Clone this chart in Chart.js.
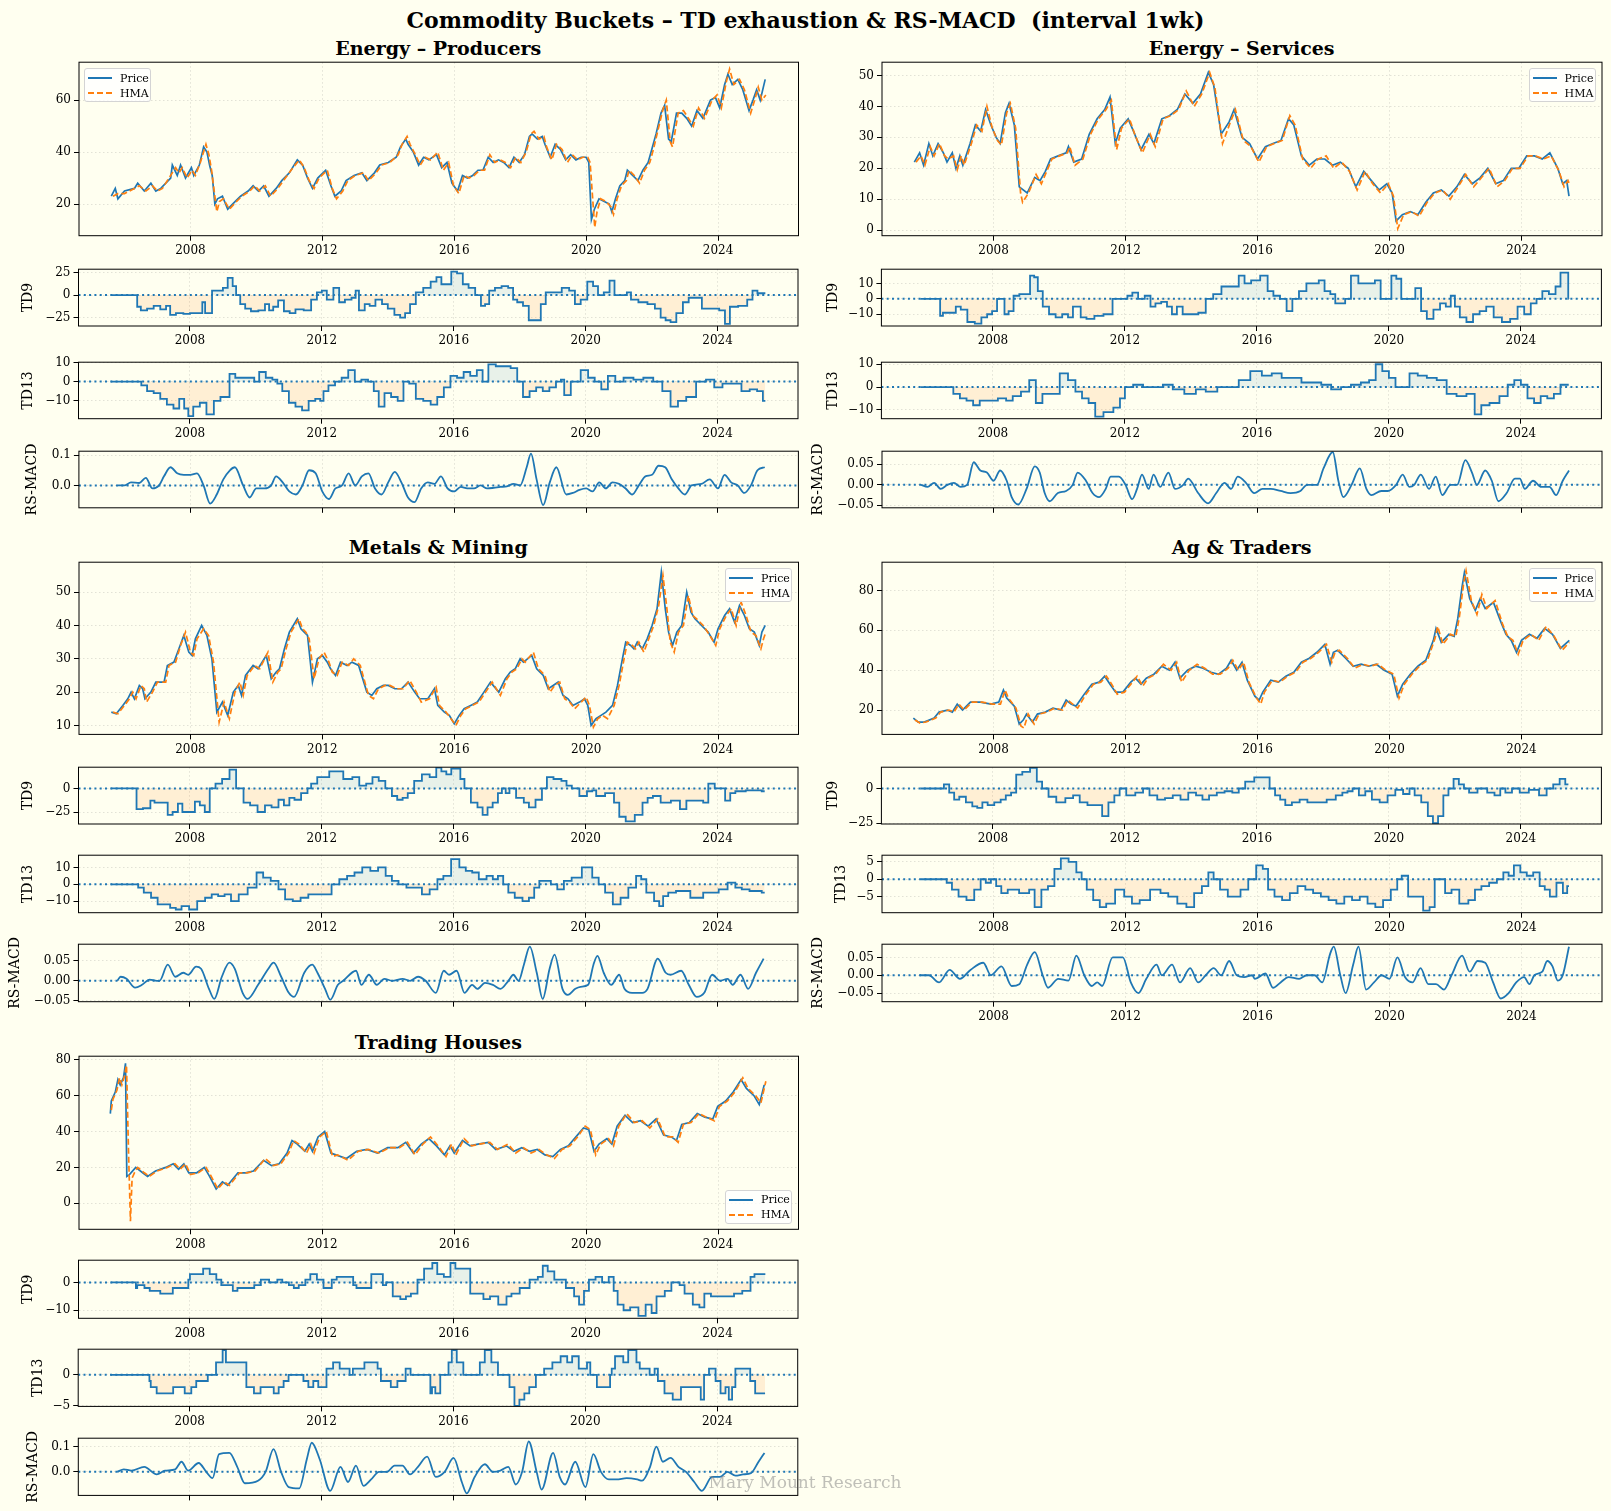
<!DOCTYPE html>
<html>
<head>
<meta charset="utf-8">
<script src="https://cdn.jsdelivr.net/npm/chart.js@4.4.1/dist/chart.umd.min.js"></script>
<style>
  body { margin: 0; background: #fffff0; }
  #page { position: relative; width: 1611px; height: 1511px; background: #fffff0; overflow: hidden;
          font-family: 'DejaVu Serif', serif; color: #000; }
  .txt { position: absolute; transform: translate(-50%, -50%); white-space: nowrap; }
  .plot { position: absolute; }
  .legend { position: absolute; width: 67px; height: 34px; box-sizing: border-box; border: 1px solid #d4d4d4;
            border-radius: 3px; background: rgba(255,255,255,0.8); font-size: 11px; z-index: 5; }
  .legend .row { position: absolute; left: 3px; height: 14px; display: flex; align-items: center; }
  .legend svg { margin-right: 8px; }
</style>
</head>
<body>
<div id="page"></div>
<script>
// ---- axes ticks ----
const yearTicks = [2008, 2012, 2016, 2020, 2024];
const xMin = 2004.62, xMax = 2026.44;

const epPriceTicks = [20, 40, 60];
const epTd9Ticks = [-25, 0, 25];
const epTd13Ticks = [-10, 0, 10];
const epRsTicks = [0, 0.1];
const esPriceTicks = [0, 10, 20, 30, 40, 50];
const esTd9Ticks = [-10, 0, 10];
const esTd13Ticks = [-10, 0, 10];
const esRsTicks = [-0.05, 0, 0.05];
const mmPriceTicks = [10, 20, 30, 40, 50];
const mmTd9Ticks = [-25, 0];
const mmTd13Ticks = [-10, 0, 10];
const mmRsTicks = [-0.05, 0, 0.05];
const agPriceTicks = [20, 40, 60, 80];
const agTd9Ticks = [-25, 0];
const agTd13Ticks = [-5, 0, 5];
const agRsTicks = [-0.05, 0, 0.05];
const thPriceTicks = [0, 20, 40, 60, 80];
const thTd9Ticks = [-10, 0];
const thTd13Ticks = [-5, 0];
const thRsTicks = [0, 0.1];

// ---- Energy – Producers ----
const epPrice = [[2005.6,23],[2005.72,26],[2005.8,22],[2006.0,25],[2006.3,26],[2006.4,28],[2006.6,25],[2006.8,28],[2006.95,25],[2007.1,26],[2007.4,30],[2007.45,35],[2007.6,31],[2007.7,35],[2007.85,30],[2008.03,34],[2008.1,31],[2008.27,35],[2008.4,42],[2008.5,40],[2008.58,35],[2008.66,31],[2008.74,20],[2008.82,22],[2008.97,23],[2009.13,18],[2009.36,21],[2009.52,23],[2009.75,25],[2009.9,27],[2010.06,25],[2010.22,27],[2010.38,23],[2010.6,26],[2010.77,29],[2011.0,32],[2011.24,37],[2011.4,35],[2011.55,30],[2011.7,26],[2011.86,30],[2012.1,33],[2012.26,27],[2012.38,23],[2012.57,25],[2012.72,29],[2012.96,31],[2013.2,32],[2013.35,29],[2013.58,32],[2013.74,35],[2014.0,36],[2014.24,38],[2014.37,42],[2014.53,45],[2014.6,43],[2014.76,40],[2014.92,35],[2015.07,38],[2015.23,37],[2015.46,39],[2015.62,34],[2015.78,36],[2015.93,28],[2016.1,25],[2016.25,31],[2016.4,30],[2016.56,31],[2016.72,33],[2016.87,33],[2017.03,38],[2017.18,36],[2017.34,37],[2017.5,36],[2017.66,34],[2017.81,38],[2017.97,36],[2018.13,39],[2018.28,46],[2018.36,47],[2018.52,45],[2018.67,46],[2018.75,43],[2018.91,38],[2019.06,43],[2019.22,41],[2019.38,37],[2019.53,39],[2019.69,37],[2019.85,38],[2020.0,38],[2020.08,36],[2020.16,14],[2020.25,18],[2020.39,22],[2020.55,21],[2020.7,20],[2020.78,17],[2020.89,22],[2021.02,27],[2021.17,29],[2021.25,33],[2021.41,31],[2021.57,29],[2021.72,33],[2021.88,36],[2021.99,41],[2022.12,47],[2022.27,55],[2022.38,58],[2022.5,45],[2022.58,44],[2022.74,55],[2022.9,55],[2023.05,53],[2023.2,50],[2023.36,56],[2023.54,53],[2023.77,60],[2023.92,61],[2024.05,57],[2024.2,66],[2024.3,70],[2024.43,66],[2024.6,68],[2024.75,64],[2024.94,56],[2025.06,60],[2025.17,64],[2025.28,60],[2025.43,68]];
const epHma = [[2005.65,23],[2005.8,24],[2006.0,24],[2006.3,26],[2006.45,27],[2006.65,25],[2006.85,27],[2007.0,25],[2007.15,26],[2007.45,32],[2007.55,34],[2007.65,32],[2007.75,34],[2007.9,30],[2008.05,33],[2008.15,31],[2008.3,36],[2008.47,43],[2008.56,39],[2008.64,33],[2008.8,17],[2008.88,21],[2009.0,22],[2009.18,18],[2009.4,21],[2009.56,23],[2009.8,25],[2009.95,27],[2010.1,25],[2010.27,27],[2010.43,23],[2010.65,26],[2010.82,29],[2011.05,33],[2011.3,37],[2011.45,34],[2011.6,29],[2011.75,26],[2011.9,30],[2012.15,33],[2012.3,26],[2012.43,22],[2012.62,25],[2012.77,29],[2013.0,31],[2013.25,32],[2013.4,29],[2013.63,32],[2013.8,35],[2014.05,36],[2014.3,39],[2014.42,43],[2014.57,46],[2014.66,43],[2014.82,39],[2014.97,35],[2015.12,38],[2015.28,37],[2015.5,40],[2015.67,33],[2015.83,36],[2015.98,27],[2016.14,24],[2016.3,31],[2016.45,30],[2016.6,31],[2016.77,33],[2016.92,33],[2017.08,39],[2017.23,36],[2017.4,37],[2017.55,36],[2017.71,34],[2017.86,38],[2018.02,36],[2018.18,40],[2018.33,47],[2018.42,48],[2018.57,45],[2018.72,46],[2018.8,42],[2018.96,37],[2019.1,43],[2019.27,41],[2019.43,36],[2019.58,39],[2019.74,37],[2019.9,38],[2020.05,38],[2020.12,36],[2020.26,11],[2020.33,17],[2020.44,22],[2020.6,21],[2020.75,19],[2020.83,16],[2020.94,22],[2021.07,27],[2021.22,29],[2021.3,33],[2021.46,31],[2021.62,28],[2021.77,33],[2021.93,36],[2022.04,41],[2022.17,48],[2022.32,56],[2022.43,60],[2022.55,44],[2022.62,42],[2022.79,55],[2022.95,56],[2023.1,53],[2023.25,50],[2023.41,57],[2023.59,53],[2023.82,60],[2023.97,62],[2024.1,57],[2024.25,67],[2024.35,72],[2024.48,66],[2024.65,68],[2024.8,64],[2024.99,55],[2025.11,60],[2025.22,65],[2025.33,60],[2025.45,62]];
const epTd9 = [[2005.6,0],[2006.38,0],[2006.42,-13],[2006.6,-17],[2006.8,-15],[2007.0,-12],[2007.2,-16],[2007.35,-12],[2007.45,-22],[2007.7,-20],[2007.9,-21],[2008.1,-20],[2008.35,-20],[2008.4,-8],[2008.52,-20],[2008.62,-20],[2008.72,5],[2008.95,5],[2009.05,8],[2009.24,19],[2009.35,10],[2009.45,0],[2009.6,-10],[2009.75,-15],[2009.95,-18],[2010.2,-17],[2010.35,-10],[2010.45,-17],[2010.6,-13],[2010.75,-6],[2010.95,-18],[2011.1,-20],[2011.3,-16],[2011.6,-17],[2011.75,-5],[2011.95,3],[2012.05,5],[2012.25,-5],[2012.45,8],[2012.6,-8],[2012.8,-5],[2013.0,-3],[2013.05,5],[2013.2,-17],[2013.4,-10],[2013.5,-12],[2013.75,-5],[2013.9,-10],[2014.1,-15],[2014.3,-22],[2014.45,-25],[2014.6,-20],[2014.75,-10],[2014.95,3],[2015.2,8],[2015.4,15],[2015.55,20],[2015.7,12],[2015.85,12],[2016.0,26],[2016.2,24],[2016.35,12],[2016.55,8],[2016.75,0],[2016.9,-12],[2017.0,-10],[2017.15,5],[2017.35,8],[2017.55,10],[2017.75,8],[2017.85,-5],[2018.0,-8],[2018.2,-12],[2018.35,-28],[2018.6,-28],[2018.68,-10],[2018.9,3],[2019.15,3],[2019.4,8],[2019.6,5],[2019.75,-10],[2019.95,-5],[2020.15,15],[2020.3,10],[2020.45,0],[2020.65,3],[2020.8,16],[2020.95,0],[2021.2,0],[2021.3,3],[2021.45,-5],[2021.75,-8],[2022.0,-10],[2022.2,-15],[2022.35,-25],[2022.5,-28],[2022.65,-30],[2022.85,-20],[2023.05,-8],[2023.2,-3],[2023.45,-3],[2023.6,-15],[2023.95,-15],[2024.15,-17],[2024.3,-32],[2024.45,-13],[2024.8,-12],[2025.0,-5],[2025.12,5],[2025.3,2],[2025.45,2]];
const epTd13 = [[2005.6,0],[2006.45,0],[2006.6,-2],[2006.8,-5],[2007.0,-6],[2007.2,-9],[2007.4,-12],[2007.6,-14],[2007.75,-9],[2007.9,-14],[2008.0,-18],[2008.2,-13],[2008.4,-11],[2008.6,-17],[2008.85,-10],[2009.0,-8],[2009.15,-8],[2009.25,4],[2009.5,2],[2009.9,2],[2010.0,0],[2010.2,5],[2010.4,2],[2010.6,1],[2010.7,-1],[2010.9,-5],[2011.1,-11],[2011.3,-13],[2011.5,-15],[2011.7,-10],[2011.9,-9],[2012.0,-10],[2012.1,-5],[2012.3,-2],[2012.5,0],[2012.7,2],[2012.9,6],[2013.1,0],[2013.3,1],[2013.5,0],[2013.65,-5],[2013.8,-13],[2014.0,-6],[2014.2,-8],[2014.4,-10],[2014.55,0],[2014.75,-1],[2014.95,-9],[2015.2,-10],[2015.4,-12],[2015.6,-8],[2015.8,-3],[2016.0,3],[2016.2,2],[2016.4,5],[2016.6,3],[2016.8,6],[2016.95,0],[2017.15,9],[2017.4,8],[2017.6,8],[2017.85,7],[2018.0,0],[2018.2,-8],[2018.4,-5],[2018.6,-3],[2018.8,-5],[2019.0,-3],[2019.2,0],[2019.3,1],[2019.4,-7],[2019.7,0],[2020.0,6],[2020.15,2],[2020.4,0],[2020.55,-4],[2020.8,3],[2021.0,0],[2021.3,2],[2021.6,1],[2021.9,2],[2022.2,0],[2022.45,-5],[2022.7,-13],[2022.9,-10],[2023.2,-8],[2023.5,0],[2023.8,1],[2024.0,-3],[2024.3,-1],[2024.6,-1],[2024.85,-5],[2025.1,-4],[2025.3,-5],[2025.45,-10]];
const epRs = [[2005.8,0],[2006.0,0],[2006.2,0.01],[2006.45,0.008],[2006.65,0.025],[2006.85,-0.01],[2007.05,0.0],[2007.2,0.03],[2007.4,0.06],[2007.6,0.04],[2007.8,0.035],[2008.0,0.035],[2008.2,0.04],[2008.4,0.0],[2008.6,-0.06],[2008.8,-0.03],[2009.0,0.02],[2009.2,0.05],[2009.35,0.06],[2009.6,0.0],[2009.8,-0.04],[2010.0,-0.01],[2010.25,-0.01],[2010.45,0.0],[2010.6,0.03],[2010.8,0.01],[2011.0,-0.02],[2011.2,-0.03],[2011.4,0.0],[2011.6,0.05],[2011.8,0.04],[2012.0,-0.02],[2012.2,-0.045],[2012.4,-0.01],[2012.6,0.0],[2012.8,0.04],[2013.0,0.0],[2013.2,0.03],[2013.4,0.04],[2013.6,-0.01],[2013.8,-0.03],[2014.0,0.01],[2014.2,0.045],[2014.4,0.01],[2014.6,-0.04],[2014.8,-0.055],[2015.0,-0.01],[2015.2,0.01],[2015.4,0.005],[2015.6,0.03],[2015.8,-0.01],[2016.0,-0.02],[2016.2,-0.005],[2016.4,-0.01],[2016.6,-0.01],[2016.8,0.0],[2017.0,-0.01],[2017.2,-0.008],[2017.4,-0.005],[2017.6,-0.003],[2017.8,0.005],[2018.0,0.0],[2018.2,0.06],[2018.33,0.105],[2018.5,0.02],[2018.7,-0.065],[2018.9,0.01],[2019.1,0.06],[2019.4,-0.03],[2019.6,-0.025],[2019.8,-0.015],[2020.0,-0.01],[2020.2,-0.02],[2020.4,0.01],[2020.6,-0.01],[2020.8,0.01],[2021.0,0.005],[2021.2,-0.01],[2021.4,-0.03],[2021.6,0.0],[2021.8,0.03],[2022.0,0.035],[2022.2,0.065],[2022.4,0.06],[2022.6,0.02],[2022.8,-0.01],[2023.0,-0.03],[2023.2,0.0],[2023.5,0.005],[2023.75,0.02],[2024.0,-0.01],[2024.2,0.035],[2024.4,0.01],[2024.6,0.0],[2024.8,-0.025],[2025.0,0.0],[2025.2,0.05],[2025.42,0.06]];

// ---- Energy – Services ----
const esPrice = [[2005.6,22],[2005.76,25],[2005.88,21],[2006.04,28],[2006.16,24],[2006.32,28],[2006.48,25],[2006.59,22],[2006.75,25],[2006.86,20],[2006.98,24],[2007.07,21],[2007.29,28],[2007.45,34],[2007.61,32],[2007.76,39],[2007.92,34],[2008.08,30],[2008.2,28],[2008.36,38],[2008.47,41],[2008.63,34],[2008.78,14],[2009.02,12],[2009.25,17],[2009.41,16],[2009.57,19],[2009.73,23],[2009.96,24],[2010.2,25],[2010.27,27],[2010.43,22],[2010.67,23],[2010.9,31],[2011.14,36],[2011.37,39],[2011.53,43],[2011.69,28],[2011.84,33],[2012.08,36],[2012.24,32],[2012.47,26],[2012.71,31],[2012.86,28],[2013.1,36],[2013.33,37],[2013.57,39],[2013.8,44],[2014.04,41],[2014.27,44],[2014.51,51],[2014.67,47],[2014.9,31],[2015.14,35],[2015.29,39],[2015.53,30],[2015.76,28],[2016.0,23],[2016.24,27],[2016.47,28],[2016.71,29],[2016.94,36],[2017.1,34],[2017.33,24],[2017.57,21],[2017.8,23],[2018.04,23],[2018.27,21],[2018.51,22],[2018.75,20],[2018.98,14],[2019.22,19],[2019.45,16],[2019.69,13],[2019.92,15],[2020.08,12],[2020.2,3],[2020.39,5],[2020.63,6],[2020.86,5],[2021.1,9],[2021.33,12],[2021.57,13],[2021.8,11],[2022.04,14],[2022.27,18],[2022.51,15],[2022.75,17],[2022.98,20],[2023.22,15],[2023.45,16],[2023.69,20],[2023.92,20],[2024.16,24],[2024.39,24],[2024.63,23],[2024.86,25],[2025.1,20],[2025.25,15],[2025.37,16],[2025.44,11]];
const esHma = [[2005.65,22],[2005.8,24],[2005.92,21],[2006.08,27],[2006.2,24],[2006.36,28],[2006.52,24],[2006.63,23],[2006.79,24],[2006.9,19.5],[2007.02,24],[2007.11,21],[2007.33,28],[2007.49,34],[2007.65,32],[2007.8,40],[2007.96,33],[2008.12,29],[2008.24,27.5],[2008.4,38],[2008.51,41],[2008.67,33],[2008.82,12],[2008.88,9],[2009.06,12],[2009.29,18],[2009.45,15],[2009.61,19],[2009.77,23],[2010.0,24],[2010.24,25],[2010.31,27],[2010.47,21],[2010.71,23],[2010.94,31],[2011.18,36],[2011.41,39],[2011.57,42],[2011.73,26],[2011.88,33],[2012.12,36],[2012.28,31],[2012.51,25],[2012.75,31],[2012.9,27],[2013.14,36],[2013.37,37],[2013.61,39],[2013.84,45],[2014.08,40],[2014.31,44],[2014.55,51],[2014.71,46],[2014.94,28],[2015.18,35],[2015.33,39],[2015.57,29],[2015.8,27],[2016.04,22],[2016.28,27],[2016.51,28],[2016.75,29],[2016.98,37],[2017.14,34],[2017.37,23],[2017.61,20],[2017.84,23],[2018.08,24],[2018.31,20],[2018.55,22],[2018.79,19],[2019.02,13],[2019.26,19],[2019.49,15],[2019.73,12],[2019.96,15],[2020.12,11],[2020.25,0.5],[2020.43,5],[2020.67,6],[2020.9,4.5],[2021.14,9],[2021.37,12],[2021.61,13],[2021.84,10],[2022.08,14],[2022.31,18],[2022.55,14],[2022.79,17],[2023.02,20],[2023.26,14],[2023.49,16],[2023.73,20],[2023.96,20],[2024.2,24],[2024.43,24],[2024.67,23],[2024.9,24],[2025.14,19],[2025.29,14],[2025.41,16],[2025.45,15]];
const esTd9 = [[2005.8,0],[2006.38,0],[2006.42,-11],[2006.55,-9],[2006.8,-9],[2006.95,-5],[2007.1,-7],[2007.35,-15],[2007.55,-16],[2007.75,-12],[2007.9,-10],[2008.05,-8],[2008.2,0],[2008.3,0],[2008.4,-10],[2008.55,-8],[2008.7,2],[2008.9,3],[2009.05,3],[2009.2,15],[2009.3,14],[2009.42,5],[2009.6,-5],[2009.8,-10],[2010.0,-12],[2010.2,-10],[2010.35,-12],[2010.5,-5],[2010.6,-5],[2010.72,-12],[2010.95,-13],[2011.2,-11],[2011.5,-10],[2011.75,0],[2012.0,0],[2012.15,2],[2012.3,4],[2012.5,0],[2012.7,2],[2012.85,-5],[2013.0,-3],[2013.2,-2],[2013.35,-5],[2013.5,-10],[2013.65,-5],[2013.85,-10],[2014.1,-10],[2014.35,-9],[2014.55,0],[2014.8,3],[2015.05,8],[2015.35,8],[2015.55,15],[2015.7,10],[2015.95,12],[2016.25,15],[2016.4,5],[2016.6,2],[2016.8,0],[2017.0,-8],[2017.15,0],[2017.4,5],[2017.6,10],[2017.8,10],[2017.95,12],[2018.15,5],[2018.3,3],[2018.45,-3],[2018.6,-3],[2018.75,0],[2018.95,15],[2019.2,10],[2019.5,10],[2019.65,12],[2019.85,0],[2020.0,0],[2020.15,15],[2020.3,13],[2020.45,0],[2020.7,0],[2020.9,7],[2021.05,-8],[2021.25,-13],[2021.45,-7],[2021.65,-3],[2021.8,-5],[2021.95,2],[2022.05,-5],[2022.25,-12],[2022.45,-15],[2022.65,-10],[2022.85,-8],[2023.05,-5],[2023.3,-12],[2023.55,-15],[2023.8,-13],[2024.0,-5],[2024.2,-10],[2024.4,-3],[2024.55,0],[2024.75,5],[2024.95,3],[2025.15,8],[2025.25,17],[2025.42,17],[2025.45,0]];
const esTd13 = [[2005.8,0],[2006.7,0],[2006.9,-3],[2007.1,-5],[2007.3,-6],[2007.5,-8],[2007.7,-6],[2008.0,-6],[2008.3,-5],[2008.5,-6],[2008.7,-4],[2009.0,-2],[2009.2,3],[2009.4,-7],[2009.6,-3],[2009.9,-3],[2010.15,6],[2010.4,3],[2010.6,-2],[2010.8,-5],[2011.0,-7],[2011.2,-13],[2011.5,-11],[2011.8,-9],[2011.9,-5],[2012.1,0],[2012.4,1],[2012.7,0],[2013.0,0],[2013.3,1],[2013.6,-1],[2014.0,-3],[2014.3,-1],[2014.6,-2],[2015.0,0],[2015.3,0],[2015.6,3],[2016.0,7],[2016.3,5],[2016.6,6],[2016.9,4],[2017.2,4],[2017.5,2],[2017.8,2],[2018.1,1],[2018.4,-1],[2018.7,0],[2019.0,1],[2019.3,2],[2019.5,3],[2019.7,10],[2019.9,7],[2020.1,4],[2020.3,0],[2020.5,0],[2020.75,6],[2021.0,5],[2021.3,4],[2021.6,3],[2021.9,-3],[2022.2,-4],[2022.5,-3],[2022.7,-12],[2022.9,-8],[2023.2,-7],[2023.5,-4],[2023.7,1],[2023.9,3],[2024.1,1],[2024.3,-5],[2024.5,-7],[2024.7,-4],[2024.9,-5],[2025.1,-3],[2025.3,1],[2025.45,1]];
const esRs = [[2005.8,0],[2006.0,-0.005],[2006.2,0.005],[2006.4,-0.01],[2006.6,0.0],[2006.8,0.005],[2007.0,-0.005],[2007.2,0.0],[2007.4,0.055],[2007.6,0.035],[2007.8,0.03],[2008.0,0.01],[2008.2,0.035],[2008.4,0.01],[2008.55,-0.03],[2008.75,-0.048],[2009.0,-0.01],[2009.25,0.045],[2009.4,0.03],[2009.55,-0.02],[2009.7,-0.04],[2009.95,-0.02],[2010.2,-0.015],[2010.4,0.0],[2010.55,0.03],[2010.8,0.01],[2011.0,-0.02],[2011.2,-0.03],[2011.4,-0.01],[2011.55,0.02],[2011.8,0.02],[2012.0,0.0],[2012.2,-0.035],[2012.35,-0.01],[2012.5,0.025],[2012.7,-0.01],[2012.85,0.025],[2013.05,-0.005],[2013.3,0.03],[2013.5,-0.01],[2013.75,0.0],[2013.9,0.015],[2014.2,-0.02],[2014.5,-0.045],[2014.75,-0.02],[2015.0,0.005],[2015.2,-0.01],[2015.4,0.02],[2015.65,0.005],[2015.9,-0.02],[2016.15,-0.01],[2016.4,-0.01],[2016.7,-0.015],[2017.0,-0.02],[2017.3,-0.015],[2017.5,0.0],[2017.8,0.0],[2018.0,0.04],[2018.28,0.08],[2018.45,0.01],[2018.6,-0.03],[2018.85,0.0],[2019.1,0.04],[2019.3,-0.01],[2019.45,-0.025],[2019.75,-0.015],[2019.95,-0.015],[2020.2,0.0],[2020.4,0.025],[2020.6,-0.005],[2020.75,0.0],[2020.95,0.025],[2021.2,-0.01],[2021.4,0.02],[2021.6,-0.025],[2021.85,0.0],[2022.05,0.0],[2022.3,0.06],[2022.5,0.03],[2022.65,0.0],[2022.9,0.035],[2023.1,0.01],[2023.3,-0.04],[2023.55,-0.02],[2023.8,0.015],[2023.95,0.015],[2024.1,-0.01],[2024.35,0.01],[2024.6,-0.005],[2024.85,-0.005],[2025.05,-0.025],[2025.25,0.01],[2025.44,0.035]];

// ---- Metals & Mining ----
const mmPrice = [[2005.6,14],[2005.75,13.5],[2005.95,16],[2006.1,18],[2006.2,20],[2006.3,18],[2006.45,22],[2006.55,21],[2006.62,18],[2006.8,20],[2006.95,23],[2007.2,23],[2007.3,28],[2007.5,29],[2007.65,33],[2007.8,37],[2007.95,32],[2008.05,31],[2008.15,36],[2008.34,40],[2008.5,37],[2008.65,30],[2008.8,14],[2008.97,17],[2009.13,13],[2009.3,20],[2009.45,22],[2009.55,19],[2009.67,25],[2009.9,28],[2010.05,27],[2010.3,31],[2010.45,24],[2010.6,26],[2010.7,27],[2010.85,33],[2011.0,38],[2011.24,42],[2011.35,39],[2011.45,38],[2011.55,37],[2011.7,23],[2011.85,30],[2012.0,31],[2012.15,29],[2012.25,27],[2012.4,25],[2012.55,29],[2012.75,28],[2012.9,29],[2013.1,28],[2013.35,20],[2013.5,19],[2013.65,21],[2013.85,22],[2014.0,22],[2014.2,21],[2014.4,21],[2014.6,23],[2014.8,20],[2014.95,18],[2015.2,18],[2015.4,21],[2015.5,16],[2015.7,14],[2015.85,13],[2016.0,10.5],[2016.15,13],[2016.3,15],[2016.5,16],[2016.7,17],[2016.9,20],[2017.1,23],[2017.35,20],[2017.55,24],[2017.7,26],[2017.85,27],[2018.0,30],[2018.1,29],[2018.35,31],[2018.5,27],[2018.7,25],[2018.85,21],[2019.0,22],[2019.15,23],[2019.3,19],[2019.45,18],[2019.6,16],[2019.8,17],[2019.95,18],[2020.05,16],[2020.15,10],[2020.3,12],[2020.45,13],[2020.6,14],[2020.8,16],[2020.95,22],[2021.1,30],[2021.2,35],[2021.35,34],[2021.45,33],[2021.55,35],[2021.7,33],[2021.85,36],[2022.0,40],[2022.15,45],[2022.28,56],[2022.4,45],[2022.5,38],[2022.62,34],[2022.75,38],[2022.9,40],[2023.05,50],[2023.18,44],[2023.3,42],[2023.5,40],[2023.7,38],[2023.88,35],[2024.0,39],[2024.2,43],[2024.35,45],[2024.5,41],[2024.65,46],[2024.8,43],[2024.95,39],[2025.1,38],[2025.25,34],[2025.33,38],[2025.43,40]];
const mmHma = [[2005.65,14],[2005.8,13.5],[2006.0,16],[2006.15,18],[2006.25,20],[2006.35,18],[2006.5,22],[2006.6,21],[2006.67,17],[2006.85,20],[2007.0,23],[2007.25,23],[2007.35,28],[2007.55,29],[2007.7,34],[2007.85,38],[2008.0,32],[2008.1,31],[2008.2,36],[2008.4,39],[2008.55,37],[2008.7,29],[2008.87,11],[2009.02,17],[2009.18,12],[2009.35,20],[2009.5,23],[2009.6,19],[2009.72,25],[2009.95,28],[2010.1,27],[2010.35,32],[2010.5,23],[2010.65,26],[2010.75,27],[2010.9,33],[2011.05,38],[2011.29,42],[2011.4,39],[2011.5,38],[2011.6,36],[2011.75,24],[2011.9,30],[2012.05,32],[2012.2,29],[2012.3,26],[2012.45,25],[2012.6,29],[2012.8,28],[2012.95,30],[2013.15,28],[2013.4,19],[2013.55,18],[2013.7,21],[2013.9,22],[2014.05,22],[2014.25,21],[2014.45,21],[2014.65,23.5],[2014.85,20],[2015.0,17],[2015.25,18],[2015.45,21.5],[2015.55,16],[2015.75,14],[2015.9,12],[2016.05,10],[2016.2,13],[2016.35,15],[2016.55,16],[2016.75,17],[2016.95,20],[2017.15,23],[2017.4,19],[2017.6,24],[2017.75,26],[2017.9,27],[2018.05,30],[2018.15,29],[2018.4,32],[2018.55,27],[2018.75,25],[2018.9,20],[2019.05,22],[2019.2,23],[2019.35,18],[2019.5,17],[2019.65,15],[2019.85,17],[2020.0,18.5],[2020.1,16],[2020.22,9.5],[2020.35,12],[2020.5,13],[2020.65,12],[2020.85,16],[2021.0,22],[2021.15,30],[2021.25,35],[2021.4,34],[2021.5,33],[2021.6,35],[2021.75,32],[2021.9,36],[2022.05,40],[2022.2,46],[2022.33,55],[2022.45,45],[2022.55,35],[2022.67,32],[2022.8,38],[2022.95,40],[2023.1,49],[2023.23,43],[2023.35,42],[2023.55,40],[2023.75,37],[2023.93,34],[2024.05,39],[2024.25,43],[2024.4,45],[2024.55,40],[2024.7,47],[2024.85,43],[2025.0,38],[2025.15,37],[2025.3,33],[2025.38,36],[2025.45,38]];
const mmTd9 = [[2005.6,0],[2006.36,0],[2006.4,-22],[2006.75,-21],[2006.85,-13],[2007.0,-15],[2007.25,-15],[2007.4,-28],[2007.55,-25],[2007.72,-16],[2007.82,-25],[2008.1,-25],[2008.2,-14],[2008.4,-18],[2008.5,-25],[2008.7,0],[2008.85,5],[2009.1,10],[2009.3,20],[2009.5,0],[2009.75,-15],[2009.9,-18],[2010.2,-25],[2010.35,-18],[2010.6,-20],[2010.77,-12],[2010.93,-18],[2011.1,-10],[2011.24,-12],[2011.5,-5],[2011.63,0],[2011.72,5],[2012.0,12],[2012.45,18],[2012.85,10],[2013.0,12],[2013.27,3],[2013.42,5],[2013.65,12],[2013.8,8],[2014.05,0],[2014.2,-8],[2014.37,-12],[2014.53,-10],[2014.68,-5],[2014.92,8],[2015.15,15],[2015.39,12],[2015.55,22],[2015.7,18],[2015.85,15],[2016.0,21],[2016.15,21],[2016.25,10],[2016.4,0],[2016.64,-15],[2016.8,-20],[2016.95,-28],[2017.1,-20],[2017.26,-15],[2017.42,-5],[2017.5,0],[2017.65,-5],[2017.73,0],[2018.05,-10],[2018.2,-15],[2018.36,-20],[2018.6,-12],[2018.75,0],[2018.9,12],[2019.15,10],[2019.38,8],[2019.46,3],[2019.7,0],[2019.92,-8],[2020.16,-3],[2020.24,-2],[2020.4,-8],[2020.78,-5],[2020.94,-15],[2021.1,-30],[2021.33,-35],[2021.65,-28],[2021.8,-15],[2021.96,-10],[2022.12,-8],[2022.43,-15],[2022.74,-13],[2022.98,-22],[2023.13,-13],[2023.53,-13],[2023.6,-15],[2023.84,5],[2023.99,0],[2024.15,0],[2024.31,-13],[2024.46,-5],[2024.62,-3],[2025.09,-2],[2025.25,-2],[2025.43,-3]];
const mmTd13 = [[2005.6,0],[2006.36,0],[2006.5,-2],[2006.7,-5],[2006.94,-8],[2007.1,-12],[2007.3,-12],[2007.5,-14],[2007.64,-15],[2007.85,-13],[2008.1,-15],[2008.34,-10],[2008.58,-8],[2008.74,-6],[2008.97,-7],[2009.13,-6],[2009.36,-10],[2009.6,-6],[2009.9,-2],[2010.14,7],[2010.3,4],[2010.6,2],[2010.77,-3],[2011.0,-9],[2011.24,-10],[2011.47,-8],[2011.71,-6],[2011.95,-6],[2012.18,-6],[2012.41,0],[2012.65,3],[2012.88,5],[2013.1,7],[2013.35,10],[2013.59,8],[2013.82,10],[2014.05,5],[2014.2,2],[2014.45,0],[2014.68,-2],[2014.92,-2],[2015.15,-6],[2015.39,-3],[2015.62,3],[2015.75,5],[2016.09,15],[2016.25,10],[2016.48,8],[2016.64,7],[2016.88,3],[2017.11,5],[2017.26,3],[2017.42,5],[2017.58,0],[2017.73,-5],[2017.97,-8],[2018.2,-10],[2018.36,-8],[2018.52,-2],[2018.67,2],[2018.83,2],[2019.06,0],[2019.22,-3],[2019.46,2],[2019.69,4],[2020.08,10],[2020.32,4],[2020.47,0],[2020.71,-5],[2020.94,-12],[2021.18,-8],[2021.41,-2],[2021.65,5],[2021.72,3],[2021.96,-5],[2022.19,-10],[2022.27,-13],[2022.43,-7],[2022.58,-5],[2022.9,-4],[2023.45,-8],[2023.68,-5],[2023.92,-5],[2024.15,-3],[2024.46,1],[2024.62,-2],[2024.85,-3],[2025.09,-4],[2025.25,-4],[2025.43,-5]];
const mmRs = [[2005.8,0],[2005.9,0.01],[2006.08,0.005],[2006.34,-0.017],[2006.55,-0.01],[2006.78,0.003],[2007.0,0.0],[2007.08,0.0],[2007.33,0.04],[2007.56,0.01],[2007.8,0.02],[2007.95,0.015],[2008.19,0.035],[2008.34,0.03],[2008.58,-0.02],[2008.74,-0.045],[2008.97,0.01],[2009.2,0.045],[2009.36,0.03],[2009.6,-0.03],[2009.75,-0.045],[2010.07,-0.01],[2010.38,0.03],[2010.54,0.045],[2010.77,0.01],[2011.0,-0.03],[2011.16,-0.04],[2011.47,0.02],[2011.71,0.04],[2011.87,0.02],[2012.1,-0.02],[2012.26,-0.047],[2012.49,-0.01],[2012.65,0.0],[2013.04,0.025],[2013.2,-0.01],[2013.43,0.015],[2013.67,-0.01],[2013.9,0.005],[2014.13,0.0],[2014.45,0.005],[2014.68,0.0],[2014.92,0.01],[2015.15,0.0],[2015.46,-0.03],[2015.7,0.025],[2015.86,0.015],[2016.09,0.025],[2016.33,-0.03],[2016.56,-0.01],[2016.72,-0.02],[2016.95,-0.005],[2017.19,-0.01],[2017.42,-0.02],[2017.66,0.0],[2017.81,0.015],[2017.97,0.0],[2018.13,0.04],[2018.31,0.085],[2018.52,0.02],[2018.7,-0.045],[2018.91,0.03],[2019.06,0.065],[2019.3,-0.02],[2019.46,-0.035],[2019.69,-0.02],[2019.85,-0.015],[2020.08,-0.01],[2020.24,0.04],[2020.36,0.062],[2020.55,0.02],[2020.78,-0.01],[2021.02,0.015],[2021.18,-0.02],[2021.41,-0.03],[2021.72,-0.03],[2021.88,-0.02],[2022.19,0.055],[2022.43,0.02],[2022.58,0.015],[2022.9,0.025],[2023.13,-0.01],[2023.37,-0.04],[2023.6,-0.03],[2023.84,0.015],[2024.08,0.0],[2024.31,0.005],[2024.46,-0.01],[2024.7,0.015],[2024.93,-0.02],[2025.17,0.02],[2025.4,0.055]];

// ---- Ag & Traders ----
const agPrice = [[2005.57,16],[2005.72,14],[2005.9,14],[2006.2,16],[2006.35,19],[2006.6,20],[2006.75,19],[2006.9,23],[2007.06,20],[2007.3,24],[2007.6,24],[2007.92,23],[2008.16,24],[2008.3,30],[2008.4,26],[2008.63,22],[2008.78,13],[2008.9,15],[2009.0,18],[2009.18,14],[2009.33,18],[2009.57,19],[2009.8,21],[2010.04,20],[2010.2,25],[2010.35,23],[2010.5,22],[2010.75,28],[2010.98,33],[2011.2,34],[2011.37,37],[2011.53,33],[2011.7,29],[2011.92,29],[2012.16,34],[2012.3,36],[2012.47,33],[2012.63,36],[2012.86,38],[2013.1,42],[2013.33,40],[2013.5,44],[2013.65,36],[2013.88,40],[2014.12,42],[2014.35,41],[2014.59,39],[2014.82,38],[2015.06,41],[2015.2,45],[2015.37,40],[2015.53,44],[2015.69,35],[2015.92,27],[2016.05,25],[2016.16,29],[2016.4,35],[2016.63,34],[2016.86,37],[2017.1,39],[2017.33,44],[2017.57,46],[2017.8,49],[2018.04,53],[2018.2,43],[2018.3,49],[2018.43,50],[2018.67,46],[2018.9,42],[2019.14,43],[2019.37,42],[2019.6,43],[2019.84,40],[2020.08,38],[2020.24,27],[2020.4,33],[2020.63,38],[2020.86,42],[2021.1,45],[2021.33,55],[2021.41,61],[2021.57,54],[2021.8,58],[2021.96,57],[2022.07,66],[2022.2,82],[2022.27,89],[2022.43,76],[2022.6,70],[2022.75,76],[2022.9,71],[2023.15,74],[2023.38,64],[2023.53,58],[2023.69,55],[2023.85,49],[2024.0,55],[2024.24,58],[2024.47,56],[2024.7,61],[2024.94,58],[2025.18,51],[2025.45,55]];
const agHma = [[2005.62,15],[2005.77,13.5],[2005.95,14],[2006.25,16],[2006.4,19],[2006.65,20],[2006.8,19],[2006.95,23],[2007.11,20],[2007.35,24],[2007.65,24],[2007.97,23],[2008.21,23],[2008.35,30],[2008.45,26],[2008.68,21],[2008.83,12],[2008.92,11],[2009.05,18],[2009.23,13],[2009.38,18],[2009.62,19],[2009.85,21],[2010.09,20],[2010.25,25],[2010.4,23],[2010.55,21],[2010.8,28],[2011.03,33],[2011.25,34],[2011.42,37],[2011.58,33],[2011.75,28],[2011.97,29],[2012.21,34],[2012.35,37],[2012.52,32],[2012.68,36],[2012.91,38],[2013.15,43],[2013.38,40],[2013.55,44],[2013.7,34],[2013.93,40],[2014.17,43],[2014.4,41],[2014.64,38],[2014.87,38],[2015.11,41],[2015.25,45],[2015.42,40],[2015.58,44],[2015.74,34],[2015.97,26],[2016.1,23],[2016.21,29],[2016.45,35],[2016.68,34],[2016.91,37],[2017.15,39],[2017.38,44],[2017.62,46],[2017.85,49],[2018.09,53],[2018.25,44],[2018.35,49],[2018.48,50],[2018.72,46],[2018.95,41],[2019.19,43],[2019.42,42],[2019.65,43],[2019.89,40],[2020.13,38],[2020.29,26],[2020.45,33],[2020.68,38],[2020.91,42],[2021.15,45],[2021.38,56],[2021.46,62],[2021.62,53],[2021.85,58],[2022.01,57],[2022.12,67],[2022.25,84],[2022.32,90],[2022.48,75],[2022.65,68],[2022.8,78],[2022.95,71],[2023.2,75],[2023.43,63],[2023.58,57],[2023.74,55],[2023.9,48],[2024.05,55],[2024.29,58],[2024.52,55],[2024.75,62],[2024.99,57],[2025.23,50],[2025.45,54]];
const agTd9 = [[2005.8,0],[2006.43,0],[2006.6,3],[2006.75,-3],[2006.9,-8],[2007.06,-6],[2007.3,-10],[2007.45,-13],[2007.6,-14],[2007.76,-10],[2007.92,-12],[2008.16,-10],[2008.31,-8],[2008.47,-5],[2008.63,-3],[2008.78,10],[2009.0,12],[2009.25,15],[2009.41,5],[2009.57,0],[2009.8,-6],[2010.04,-10],[2010.35,-7],[2010.51,-5],[2010.75,-10],[2010.98,-12],[2011.22,-12],[2011.4,-20],[2011.6,-10],[2011.76,-5],[2011.92,0],[2012.16,-5],[2012.47,-3],[2012.63,0],[2012.86,-5],[2013.1,-8],[2013.33,-7],[2013.57,-5],[2013.8,-8],[2014.04,-3],[2014.27,-5],[2014.43,-8],[2014.67,-5],[2014.9,-3],[2015.14,-2],[2015.37,-3],[2015.53,0],[2015.76,5],[2016.08,8],[2016.3,8],[2016.47,0],[2016.63,-5],[2016.78,-8],[2016.94,-12],[2017.18,-10],[2017.41,-8],[2017.65,-10],[2017.96,-10],[2018.27,-8],[2018.51,-5],[2018.67,-3],[2018.82,-2],[2018.98,0],[2019.2,-5],[2019.37,-2],[2019.6,-8],[2019.84,-10],[2020.08,-5],[2020.31,-1],[2020.55,-4],[2020.7,0],[2020.86,-5],[2021.1,-10],[2021.26,-20],[2021.41,-25],[2021.57,-20],[2021.73,-5],[2021.88,0],[2022.04,7],[2022.2,3],[2022.35,0],[2022.51,-3],[2022.86,0],[2023.1,-3],[2023.3,-5],[2023.45,0],[2023.61,-3],[2023.85,0],[2024.08,-3],[2024.4,-1],[2024.7,-5],[2024.86,0],[2025.1,3],[2025.25,7],[2025.44,3]];
const agTd13 = [[2005.8,0],[2006.5,0],[2006.66,-1],[2006.82,-3],[2007.06,-5],[2007.3,-6],[2007.53,-3],[2007.69,0],[2007.84,-1],[2008.0,0],[2008.16,-2],[2008.31,-4],[2008.55,-3],[2009.0,-4],[2009.16,-3],[2009.33,-8],[2009.57,-3],[2009.73,-2],[2009.96,3],[2010.12,6],[2010.43,5],[2010.59,2],[2010.75,0],[2010.9,-3],[2011.14,-6],[2011.3,-8],[2011.53,-7],[2011.84,-3],[2012.08,-5],[2012.31,-7],[2012.55,-6],[2012.94,-3],[2013.18,-4],[2013.41,-5],[2013.73,-7],[2013.96,-8],[2014.2,-4],[2014.43,-2],[2014.59,2],[2014.75,0],[2014.98,-3],[2015.22,-5],[2015.37,-5],[2015.6,-3],[2015.84,0],[2016.08,4],[2016.24,3],[2016.4,-3],[2016.63,-5],[2016.86,-6],[2017.1,-4],[2017.33,-2],[2017.57,-3],[2017.8,-4],[2018.04,-5],[2018.27,-6],[2018.51,-7],[2018.75,-5],[2018.98,-6],[2019.22,-5],[2019.45,-7],[2019.69,-8],[2019.92,-6],[2020.16,-3],[2020.31,0],[2020.43,1],[2020.7,-5],[2020.94,-5],[2021.1,-9],[2021.33,-8],[2021.41,0],[2021.57,0],[2021.8,-4],[2021.96,-3],[2022.27,-7],[2022.51,-6],[2022.67,-3],[2022.9,-2],[2023.14,-1],[2023.37,0],[2023.53,2],[2023.69,1],[2023.85,4],[2024.08,2],[2024.24,1],[2024.47,2],[2024.63,-2],[2024.78,-3],[2024.94,-5],[2025.18,-1],[2025.33,-4],[2025.44,-2]];
const agRs = [[2005.76,0],[2006.04,0.0],[2006.35,-0.02],[2006.67,0.015],[2006.98,-0.01],[2007.3,0.015],[2007.69,0.035],[2007.92,0.0],[2008.24,0.025],[2008.55,-0.03],[2008.78,-0.025],[2009.02,0.03],[2009.25,0.065],[2009.49,0.0],[2009.65,-0.035],[2009.96,-0.01],[2010.27,-0.015],[2010.51,0.055],[2010.75,0.0],[2010.98,-0.03],[2011.14,-0.02],[2011.29,-0.03],[2011.61,0.05],[2011.92,0.05],[2012.16,-0.02],[2012.39,-0.05],[2012.63,-0.01],[2012.94,0.03],[2013.1,0.0],[2013.41,0.03],[2013.65,-0.02],[2013.96,0.02],[2014.2,-0.02],[2014.43,0.0],[2014.67,0.02],[2014.9,0.0],[2015.14,0.04],[2015.37,0.0],[2015.6,-0.005],[2015.84,0.0],[2015.92,-0.01],[2016.24,0.005],[2016.47,-0.035],[2016.7,-0.02],[2016.94,-0.005],[2017.26,-0.01],[2017.49,0.0],[2017.73,0.0],[2017.96,-0.02],[2018.2,0.06],[2018.31,0.08],[2018.51,0.0],[2018.67,-0.05],[2018.9,0.03],[2019.06,0.08],[2019.29,-0.04],[2019.53,-0.02],[2019.76,0.0],[2020.0,-0.01],[2020.24,0.05],[2020.47,-0.005],[2020.7,-0.02],[2020.94,0.02],[2021.18,-0.025],[2021.41,-0.025],[2021.65,-0.04],[2021.88,0.0],[2022.2,0.055],[2022.43,0.01],[2022.67,0.04],[2022.9,0.035],[2023.14,-0.02],[2023.37,-0.065],[2023.61,-0.05],[2023.84,-0.02],[2024.08,-0.005],[2024.24,-0.025],[2024.39,0.0],[2024.63,0.01],[2024.78,0.04],[2024.94,0.025],[2025.1,-0.015],[2025.25,0.0],[2025.44,0.08]];

// ---- Trading Houses ----
const thPrice = [[2005.57,50],[2005.6,57],[2005.72,62],[2005.8,69],[2005.87,66],[2005.97,70],[2006.03,78],[2006.07,15],[2006.15,16],[2006.34,20],[2006.55,17],[2006.7,15],[2006.94,18],[2007.25,20],[2007.48,22],[2007.64,19],[2007.8,22],[2007.95,17],[2008.19,17],[2008.42,20],[2008.58,15],[2008.78,8],[2008.97,12],[2009.13,10],[2009.44,17],[2009.67,17],[2009.91,18],[2010.22,24],[2010.46,21],[2010.69,22],[2010.93,28],[2011.08,35],[2011.24,33],[2011.47,29],[2011.6,33],[2011.7,29],[2011.87,37],[2012.07,40],[2012.26,28],[2012.41,27],[2012.73,25],[2013.04,29],[2013.35,30],[2013.67,28],[2013.98,31],[2014.29,31],[2014.53,34],[2014.76,28],[2015.0,33],[2015.23,36],[2015.46,32],[2015.7,27],[2015.87,32],[2016.0,28],[2016.25,35],[2016.48,32],[2016.72,33],[2017.03,34],[2017.26,30],[2017.58,32],[2017.81,29],[2018.05,31],[2018.28,29],[2018.52,30],[2018.75,27],[2018.99,26],[2019.22,30],[2019.46,32],[2019.69,37],[2019.92,42],[2020.08,41],[2020.24,29],[2020.39,33],[2020.63,36],[2020.78,33],[2020.94,43],[2021.18,49],[2021.41,45],[2021.65,46],[2021.88,43],[2022.12,47],[2022.35,38],[2022.58,37],[2022.74,35],[2022.9,44],[2023.13,45],[2023.37,50],[2023.6,48],[2023.84,47],[2023.99,54],[2024.23,57],[2024.46,62],[2024.7,69],[2024.86,64],[2025.09,60],[2025.25,55],[2025.4,66]];
const thHma = [[2005.6,52],[2005.65,58],[2005.77,63],[2005.85,70],[2005.92,66],[2006.0,71],[2006.06,77],[2006.12,30],[2006.18,-10],[2006.23,14],[2006.3,17],[2006.4,20],[2006.6,17],[2006.75,15],[2006.99,18],[2007.3,20],[2007.53,22],[2007.69,19],[2007.85,22],[2008.0,16],[2008.24,17],[2008.47,20],[2008.63,15],[2008.83,8],[2009.02,12],[2009.18,10],[2009.49,17],[2009.72,17],[2009.96,18],[2010.27,25],[2010.51,21],[2010.74,22],[2010.98,28],[2011.13,35],[2011.29,33],[2011.52,28],[2011.65,33],[2011.75,28],[2011.92,37],[2012.12,40],[2012.31,26],[2012.46,27],[2012.78,24],[2013.09,29],[2013.4,30],[2013.72,28],[2014.03,31],[2014.34,31],[2014.58,34],[2014.81,27],[2015.05,33],[2015.28,37],[2015.51,32],[2015.75,26],[2015.92,33],[2016.05,27],[2016.3,36],[2016.53,32],[2016.77,33],[2017.08,34],[2017.31,30],[2017.63,33],[2017.86,28],[2018.1,31],[2018.33,28],[2018.57,30],[2018.8,27],[2019.04,25],[2019.27,30],[2019.51,32],[2019.74,37],[2019.97,43],[2020.13,41],[2020.29,27],[2020.44,33],[2020.68,36],[2020.83,32],[2020.99,43],[2021.23,50],[2021.46,45],[2021.7,46],[2021.93,42],[2022.17,47],[2022.4,37],[2022.63,37],[2022.79,34],[2022.95,44],[2023.18,45],[2023.42,50],[2023.65,48],[2023.89,46],[2024.04,54],[2024.28,57],[2024.51,62],[2024.75,70],[2024.91,64],[2025.14,60],[2025.3,56],[2025.45,68]];
const thTd9 = [[2005.6,0],[2006.36,0],[2006.4,-2],[2006.62,-1],[2006.78,-2],[2007.1,-3],[2007.48,-4],[2007.95,-2],[2008.0,1],[2008.4,3],[2008.6,5],[2008.8,3],[2008.95,1],[2009.3,-1],[2009.44,-3],[2009.95,-2],[2010.15,-1],[2010.4,1],[2010.65,0],[2010.8,1],[2011.0,0],[2011.15,-1],[2011.3,-2],[2011.5,-1],[2011.65,1],[2011.85,3],[2012.05,1],[2012.3,-2],[2012.45,1],[2012.95,2],[2013.05,-1],[2013.5,-2],[2013.85,3],[2013.95,-1],[2014.15,0],[2014.38,-5],[2014.55,-6],[2014.7,-5],[2014.9,-4],[2015.1,1],[2015.35,5],[2015.5,7],[2015.7,3],[2015.9,2],[2016.05,7],[2016.5,5],[2016.9,-4],[2017.1,-6],[2017.35,-5],[2017.6,-8],[2017.75,-5],[2018.0,-4],[2018.3,-2],[2018.55,1],[2018.7,2],[2018.85,6],[2019.05,4],[2019.4,1],[2019.65,-2],[2019.8,-5],[2019.95,-8],[2020.1,-3],[2020.3,1],[2020.5,2],[2020.7,0],[2020.85,2],[2020.97,-3],[2021.15,-8],[2021.35,-10],[2021.6,-9],[2021.82,-12],[2022.0,-8],[2022.15,-11],[2022.4,-5],[2022.6,-3],[2022.85,0],[2023.0,-1],[2023.25,-4],[2023.45,-8],[2023.6,-9],[2023.8,-4],[2024.5,-5],[2024.75,-4],[2025.0,-3],[2025.12,2],[2025.22,3],[2025.45,3]];
const thTd13 = [[2005.6,0],[2006.78,0],[2006.82,-1],[2007.0,-2],[2007.5,-3],[2007.85,-2],[2008.05,-3],[2008.2,-2],[2008.55,-1],[2008.8,0],[2009.0,2],[2009.1,4],[2009.72,2],[2009.95,-2],[2010.15,-3],[2010.55,-2],[2010.7,-3],[2010.85,-2],[2011.0,-1],[2011.45,0],[2011.6,-1],[2011.75,-2],[2011.9,-1],[2012.15,-2],[2012.35,1],[2012.55,2],[2012.85,1],[2012.95,0],[2013.3,1],[2013.7,2],[2013.8,1],[2014.1,-1],[2014.3,-2],[2014.55,-1],[2014.7,1],[2015.3,0],[2015.35,-3],[2015.45,-2],[2015.6,-3],[2015.85,0],[2015.95,2],[2016.1,4],[2016.3,2],[2016.8,0],[2016.95,2],[2017.15,4],[2017.35,2],[2017.7,0],[2017.85,-2],[2018.0,-5],[2018.15,-4],[2018.3,-3],[2018.5,-2],[2018.75,0],[2019.0,1],[2019.25,2],[2019.45,3],[2019.6,2],[2019.8,3],[2020.05,1],[2020.15,2],[2020.35,0],[2020.75,-2],[2020.8,0],[2020.9,1],[2021.15,3],[2021.3,2],[2021.55,4],[2021.65,2],[2021.95,1],[2022.1,0],[2022.2,1],[2022.4,-1],[2022.65,-3],[2022.9,-4],[2023.5,-2],[2023.6,-4],[2023.75,0],[2023.95,1],[2024.1,-1],[2024.25,-3],[2024.35,-2],[2024.45,-4],[2024.55,-2],[2025.0,1],[2025.15,-1],[2025.4,-3],[2025.45,-3]];
const thRs = [[2005.8,0],[2006.0,0.01],[2006.23,0.005],[2006.62,0.02],[2007.0,-0.01],[2007.25,0.005],[2007.56,0.01],[2007.75,0.04],[2007.95,0.005],[2008.27,0.035],[2008.5,0.0],[2008.69,-0.025],[2008.89,0.07],[2009.2,0.075],[2009.44,0.02],[2009.67,-0.045],[2010.07,-0.035],[2010.3,0.0],[2010.54,0.09],[2010.77,0.0],[2011.0,-0.06],[2011.32,-0.065],[2011.55,0.05],[2011.7,0.115],[2011.94,0.05],[2012.26,-0.075],[2012.57,0.02],[2012.8,-0.04],[2013.04,0.025],[2013.27,-0.055],[2013.5,-0.03],[2013.74,0.0],[2013.98,0.0],[2014.21,0.025],[2014.45,0.025],[2014.68,-0.01],[2014.92,0.02],[2015.2,0.06],[2015.46,-0.02],[2015.73,0.0],[2016.0,0.055],[2016.25,-0.04],[2016.4,-0.085],[2016.64,-0.02],[2016.95,0.03],[2017.19,0.0],[2017.42,0.005],[2017.66,0.02],[2017.89,-0.05],[2018.08,0.0],[2018.28,0.12],[2018.52,0.0],[2018.67,-0.07],[2019.02,0.075],[2019.22,-0.02],[2019.38,-0.05],[2019.69,0.04],[2020.0,-0.06],[2020.24,0.07],[2020.47,0.0],[2020.71,-0.03],[2020.94,-0.03],[2021.25,-0.025],[2021.57,-0.03],[2021.72,-0.035],[2021.96,0.02],[2022.15,0.1],[2022.35,0.04],[2022.58,0.055],[2022.82,0.02],[2023.05,0.0],[2023.3,-0.04],[2023.53,-0.075],[2023.84,-0.02],[2024.08,-0.02],[2024.31,0.0],[2024.55,-0.015],[2024.78,-0.01],[2025.02,-0.005],[2025.25,0.04],[2025.43,0.075]];

// ---- layout ----
const BLUE = '#1f77b4', ORANGE = '#ff7f0e';
const colLeft = [78.5, 881.6];
const colWidth = [719.5, 720];
const rows = [
  { title: 47.7, price: [62.3, 236], td9: [269, 326], td13: [362.3, 419], rs: [451, 508] },
  { title: 547.3, price: [562.3, 734.7], td9: [767.3, 824.3], td13: [855, 912.7], rs: [944, 1001.7] },
  { title: 1041.7, price: [1056, 1229.3], td9: [1260, 1318.3], td13: [1349.3, 1406.7], rs: [1438.3, 1495.7] }
];

const buckets = [
  { name: 'Energy – Producers', col: 0, row: 0, price: epPrice, hma: epHma, td9: epTd9, td13: epTd13, rs: epRs,
    ticks: { price: epPriceTicks, td9: epTd9Ticks, td13: epTd13Ticks, rs: epRsTicks },
    ranges: { price: [7.8, 74.6], td9: [-34.4, 28.7], td13: [-19.3, 10.1], rs: [-0.074, 0.113] },
    labelX: { td9: 28.4, td13: 28.4, rs: 32 }, legend: 'tl', rsLabels: false, stepped: 'middle' },
  { name: 'Energy – Services', col: 1, row: 0, price: esPrice, hma: esHma, td9: esTd9, td13: esTd13, rs: esRs,
    ticks: { price: esPriceTicks, td9: esTd9Ticks, td13: esTd13Ticks, rs: esRsTicks },
    ranges: { price: [-1.8, 54.3], td9: [-17.6, 19.2], td13: [-13.9, 10.9], rs: [-0.056, 0.082] },
    labelX: { td9: 833.6, td13: 833.6, rs: 818 }, legend: 'tr', rsLabels: false, stepped: 'middle' },
  { name: 'Metals & Mining', col: 0, row: 1, price: mmPrice, hma: mmHma, td9: mmTd9, td13: mmTd13, rs: mmRs,
    ticks: { price: mmPriceTicks, td9: mmTd9Ticks, td13: mmTd13Ticks, rs: mmRsTicks },
    ranges: { price: [7.3, 59], td9: [-37.7, 22.5], td13: [-16.9, 17.3], rs: [-0.052, 0.091] },
    labelX: { td9: 28.4, td13: 28.4, rs: 15.5 }, legend: 'tr', rsLabels: false, stepped: 'middle' },
  { name: 'Ag & Traders', col: 1, row: 1, price: agPrice, hma: agHma, td9: agTd9, td13: agTd13, rs: agRs,
    ticks: { price: agPriceTicks, td9: agTd9Ticks, td13: agTd13Ticks, rs: agRsTicks },
    ranges: { price: [7.8, 94.2], td9: [-25.7, 15.4], td13: [-9.6, 6.9], rs: [-0.074, 0.087] },
    labelX: { td9: 833.6, td13: 841, rs: 818 }, legend: 'tr', rsLabels: true, stepped: 'middle' },
  { name: 'Trading Houses', col: 0, row: 2, price: thPrice, hma: thHma, td9: thTd9, td13: thTd13, rs: thRs,
    ticks: { price: thPriceTicks, td9: thTd9Ticks, td13: thTd13Ticks, rs: thRsTicks },
    ranges: { price: [-14.5, 82], td9: [-12.9, 8.0], td13: [-5.1, 4.14], rs: [-0.093, 0.133] },
    labelX: { td9: 28.4, td13: 38.7, rs: 33.6 }, legend: 'br', rsLabels: false, stepped: 'after' }
];

Chart.defaults.font.family = "'DejaVu Serif', serif";
Chart.defaults.font.size = 12;
Chart.defaults.color = '#000';

const page = document.getElementById('page');

function addText(text, x, y, css) {
  const d = document.createElement('div');
  d.className = 'txt';
  d.textContent = text;
  d.style.left = x + 'px';
  d.style.top = y + 'px';
  Object.assign(d.style, css || {});
  page.appendChild(d);
  return d;
}

function decimalsOf(arr) {
  let d = 0;
  arr.forEach(v => {
    const s = String(v);
    if (s.indexOf('.') >= 0) d = Math.max(d, s.split('.')[1].length);
  });
  return d;
}

const framePlugin = {
  id: 'frame',
  afterDraw(chart) {
    const { ctx, chartArea: a } = chart;
    ctx.save();
    ctx.strokeStyle = '#000';
    ctx.lineWidth = 1;
    ctx.strokeRect(a.left, a.top, a.right - a.left, a.bottom - a.top);
    ctx.restore();
  }
};

function addPanel(p) {
  const padTop = 10;
  const W = Math.ceil(p.yW + p.width + 12);
  const H = Math.ceil(padTop + p.height + (p.xLabels ? 28 : 10));
  const padRight = W - p.yW - p.width;
  const xH = H - padTop - p.height;
  const dec = decimalsOf(p.yticks);

  const wrap = document.createElement('div');
  wrap.className = 'plot';
  wrap.style.left = (p.left - p.yW) + 'px';
  wrap.style.top = (p.top - padTop) + 'px';
  const canvas = document.createElement('canvas');
  canvas.width = W;
  canvas.height = H;
  canvas.style.width = W + 'px';
  canvas.style.height = H + 'px';
  wrap.appendChild(canvas);
  page.appendChild(wrap);

  const gridCommon = { color: 'rgba(110,110,110,0.25)', lineWidth: 0.8, tickLength: 5,
                       tickColor: '#000', tickWidth: 1, tickBorderDash: [] };

  const chart = new Chart(canvas, {
    type: 'line',
    data: { datasets: p.datasets },
    options: {
      responsive: false,
      animation: false,
      events: [],
      layout: { padding: { top: padTop, right: padRight, left: 0, bottom: 0 } },
      plugins: { legend: { display: false }, tooltip: { enabled: false } },
      elements: { point: { radius: 0 }, line: { tension: 0 } },
      scales: {
        x: {
          type: 'linear', min: xMin, max: xMax,
          afterBuildTicks: s => { s.ticks = yearTicks.map(v => ({ value: v })); },
          afterFit: s => { s.height = xH; },
          ticks: { display: p.xLabels, padding: 3, maxRotation: 0, autoSkip: false,
                   font: { size: 12 }, color: '#000', callback: v => String(v) },
          grid: gridCommon,
          border: { display: false, dash: [1.5, 2.5] }
        },
        y: {
          type: 'linear', min: p.ymin, max: p.ymax,
          afterBuildTicks: s => { s.ticks = p.yticks.map(v => ({ value: v })); },
          afterFit: s => { s.width = p.yW; },
          ticks: { padding: 3, autoSkip: false, font: { size: 12 }, color: '#000',
                   callback: v => v.toFixed(dec).replace('-', '\u2212') },
          grid: gridCommon,
          border: { display: false, dash: [1.5, 2.5] },
          title: { display: !!p.ylabel, text: p.ylabel || '', font: { size: 14 }, color: '#000', padding: 0 }
        }
      }
    },
    plugins: [framePlugin]
  });

  const a = chart.chartArea;
  wrap.style.left = (p.left - a.left) + 'px';
  wrap.style.top = (p.top - a.top) + 'px';
  return chart;
}

function zeroLine() {
  return { data: [[xMin, 0], [xMax, 0]], borderColor: BLUE, borderWidth: 2, borderDash: [2, 3.3], fill: false };
}

function addLegend(x, y) {
  const box = document.createElement('div');
  box.className = 'legend';
  box.style.left = x + 'px';
  box.style.top = y + 'px';
  box.innerHTML =
    '<div class="row" style="top:2px"><svg width="24" height="4"><line x1="0" y1="2" x2="24" y2="2" stroke="' + BLUE +
    '" stroke-width="2"/></svg>Price</div>' +
    '<div class="row" style="top:17px"><svg width="24" height="4"><line x1="0" y1="2" x2="24" y2="2" stroke="' + ORANGE +
    '" stroke-width="2" stroke-dasharray="6,3"/></svg>HMA</div>';
  page.appendChild(box);
}

addText('Commodity Buckets – TD exhaustion & RS-MACD  (interval 1wk)', 805.5, 20,
        { fontSize: '22px', fontWeight: 'bold', whiteSpace: 'pre' });

buckets.forEach(b => {
  const left = colLeft[b.col];
  const width = colWidth[b.col];
  const g = rows[b.row];
  addText(b.name, left + width / 2, g.title, { fontSize: '19px', fontWeight: 'bold' });

  // price + HMA
  addPanel({
    left: left, top: g.price[0], width: width, height: g.price[1] - g.price[0], yW: 40,
    xLabels: true, ymin: b.ranges.price[0], ymax: b.ranges.price[1], yticks: b.ticks.price,
    datasets: [
      { data: b.hma, borderColor: ORANGE, borderWidth: 1.7, borderDash: [6, 3], fill: false },
      { data: b.price, borderColor: BLUE, borderWidth: 1.7, fill: false }
    ]
  });
  const top = g.price[0], bottom = g.price[1], right = left + width;
  if (b.legend === 'tl') addLegend(left + 5.5, top + 5.7);
  if (b.legend === 'tr') addLegend(right - 73, top + 5.7);
  if (b.legend === 'br') addLegend(right - 73, bottom - 39.5);

  // TD9 / TD13 panels
  [['td9', 'TD9'], ['td13', 'TD13']].forEach(([key, label]) => {
    addPanel({
      left: left, top: g[key][0], width: width, height: g[key][1] - g[key][0],
      yW: left - (b.labelX[key] - 8.4), ylabel: label,
      xLabels: true, ymin: b.ranges[key][0], ymax: b.ranges[key][1], yticks: b.ticks[key],
      datasets: [
        zeroLine(),
        { data: b[key], borderColor: BLUE, borderWidth: 1.8, stepped: b.stepped,
          fill: { target: { value: 0 }, above: 'rgba(31,119,180,0.10)', below: 'rgba(255,127,14,0.12)' } }
      ]
    });
  });

  // RS-MACD (smooth oscillator)
  addPanel({
    left: left, top: g.rs[0], width: width, height: g.rs[1] - g.rs[0],
    yW: left - (b.labelX.rs - 8.4), ylabel: 'RS-MACD',
    xLabels: b.rsLabels, ymin: b.ranges.rs[0], ymax: b.ranges.rs[1], yticks: b.ticks.rs,
    datasets: [
      zeroLine(),
      { data: b.rs, borderColor: BLUE, borderWidth: 1.8, cubicInterpolationMode: 'monotone', fill: false }
    ]
  });
});

addText('Mary Mount Research', 805, 1482, { fontSize: '17px', color: 'rgba(128,128,128,0.5)', zIndex: 10 });
</script>
</body>
</html>
